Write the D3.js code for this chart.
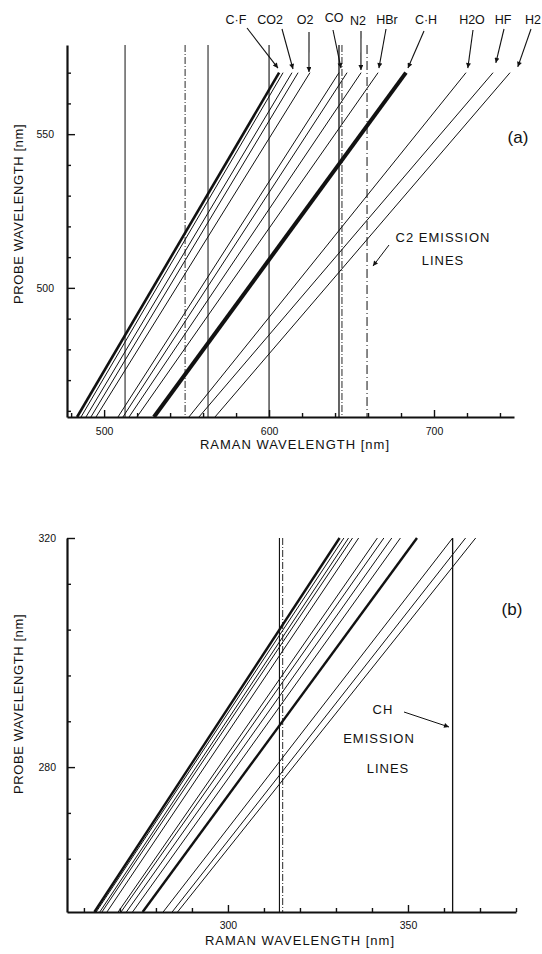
<!DOCTYPE html>
<html><head><meta charset="utf-8">
<script src="https://cdn.jsdelivr.net/npm/d3@7"></script>
<style>
body{margin:0;background:#fff}
svg{display:block}
text{font-family:"Liberation Sans",Arial,sans-serif;fill:#111}
</style></head><body>
<svg id="chart" width="542" height="954"></svg>
<script>
// ================= DATA =================
// Panel (a) : C2 region
const probeRangeA = [458, 570];
const ramanBottomA = [483.6, 486.0, 489.0, 492.0, 495.1, 508.4, 511.4, 515.1, 519.9, 530.2, 551.4, 557.5, 567.2];
const ramanTopA    = [606.1, 608.5, 613.9, 617.6, 624.8, 642.4, 647.3, 655.8, 666.1, 683.0, 719.4, 735.8, 746.1];
const emissionA    = [512.7, 549.1, 563.0, 600.0, 642.4, 644.2, 659.4];
const speciesA        = ["C·F", "CO2", "O2", "CO", "N2", "HBr", "C·H", "H2O", "HF", "H2"];
const speciesTipRamanA = [605.4, 614.5, 624.2, 643.6, 655.7, 666.6, 684.2, 720.5, 737.5, 750.8];
const speciesTipProbeA = [571.5, 571.2, 570.2, 571.5, 570.9, 571.5, 571.5, 571.5, 573.2, 571.9];
const xTicksA = [480, 500, 520, 540, 560, 580, 600, 620, 640, 660, 680, 700, 720, 740];
const xTickLabelsA = [500, 600, 700];
const yTicksA = [460, 470, 480, 490, 500, 510, 520, 530, 540, 550, 560, 570];
const yTickLabelsA = [500, 550];
const emissionTipA = [663.0, 507.1];

// Panel (b) : CH region
const probeRangeB = [254.7, 320];
const ramanBottomB = [262.9, 263.4, 264.4, 265.0, 266.4, 269.5, 270.3, 271.8, 273.5, 276.3, 282.0, 284.5, 286.0];
const ramanTopB    = [331.0, 332.2, 333.5, 334.6, 336.3, 341.5, 343.3, 345.5, 347.9, 352.5, 362.4, 366.0, 368.8];
const emissionB    = [314.3, 315.2, 362.4];
const xTicksB = [260, 270, 280, 290, 300, 310, 320, 330, 340, 350, 360, 370, 380];
const xTickLabelsB = [300, 350];
const yTicksB = [264, 272, 280, 288, 296, 304, 312, 320];
const yTickLabelsB = [280, 320];
const emissionTipB = [361.4, 287.0];

// ================= LAYOUT / STYLE =================
const panels = [
  { key: "a",
    xDomain: [477.5, 748.5], xRange: [67, 514],
    yDomain: [458, 579], yRange: [417, 45],
    probeRange: probeRangeA, bottom: ramanBottomA, top: ramanTopA,
    lineWidths: [2.6, 1, 1, 1, 1, 1, 1, 1, 1, 4, 1, 1, 1],
    emission: emissionA,
    emissionDash: [null, "7,2,1,2", null, null, null, "7,2,1,2", "9,3,1,3"],
    emissionWidth: [1, 0.9, 1, 1.1, 1.3, 0.9, 1],
    xTicks: xTicksA, xLabels: xTickLabelsA, yTicks: yTicksA, yLabels: yTickLabelsA,
    xPad: 11, yPad: 13, yTitleCenter: 214, xTitleY: 449, xTitleX: 295,
    tag: "(a)", tagPos: [518, 143],
    emissionText: ["C2 EMISSION", "LINES"], emissionTextPos: [[443, 242], [443, 265]],
    emissionArrowFrom: [389, 245], emissionTip: emissionTipA
  },
  { key: "b",
    xDomain: [255.3, 380], xRange: [67, 516],
    yDomain: [254.7, 320], yRange: [912, 538],
    probeRange: probeRangeB, bottom: ramanBottomB, top: ramanTopB,
    lineWidths: [2.4, 1, 1, 1, 1, 1, 1, 1, 1, 2.4, 1, 1, 1],
    emission: emissionB,
    emissionDash: [null, "7,2,1,2", null],
    emissionWidth: [1.1, 0.9, 1.3],
    xTicks: xTicksB, xLabels: xTickLabelsB, yTicks: yTicksB, yLabels: yTickLabelsB,
    xPad: 10, yPad: 11, yTitleCenter: 704, xTitleY: 945, xTitleX: 300,
    tag: "(b)", tagPos: [512, 615],
    emissionText: ["CH", "EMISSION", "LINES"], emissionTextPos: [[383, 714], [379, 743], [388, 773]],
    emissionArrowFrom: [404, 712], emissionTip: emissionTipB
  }
];

const labelLayoutA = {
  text: [[236, 24], [270, 24], [305, 24], [334, 22], [358, 25], [387, 24], [426, 24], [472, 24], [503, 24], [533, 24]],
  tail: [[247, 28], [282, 29], [309, 32], [333, 30], [361, 31], [386, 29], [424, 31], [473, 30], [504, 29], [531, 29]]
};

const ink = "#111";
const svg = d3.select("#chart");

const defs = svg.append("defs");
defs.append("marker").attr("id", "arrow")
  .attr("viewBox", "0 0 10 10").attr("refX", 10).attr("refY", 5)
  .attr("markerWidth", 7).attr("markerHeight", 5).attr("markerUnits", "userSpaceOnUse")
  .attr("orient", "auto")
  .append("path").attr("d", "M0,0 L10,5 L0,10 Z").attr("fill", ink);

panels.forEach(P => {
  const g = svg.append("g");
  const x = d3.scaleLinear().domain(P.xDomain).range(P.xRange);
  const y = d3.scaleLinear().domain(P.yDomain).range(P.yRange);

  // emission (vertical) lines
  g.selectAll("line.em").data(P.emission).join("line")
    .attr("class", "em")
    .attr("x1", d => x(d)).attr("x2", d => x(d))
    .attr("y1", y(P.yDomain[1])).attr("y2", y(P.yDomain[0]))
    .attr("stroke", ink)
    .attr("stroke-width", (d, i) => P.emissionWidth[i])
    .attr("stroke-dasharray", (d, i) => P.emissionDash[i]);

  // Raman lines
  const lineGen = d3.line().x(d => x(d[0])).y(d => y(d[1]));
  const rows = P.bottom.map((b, i) => [[b, P.probeRange[0]], [P.top[i], P.probeRange[1]]]);
  g.selectAll("path.raman").data(rows).join("path")
    .attr("class", "raman")
    .attr("d", lineGen)
    .attr("fill", "none")
    .attr("stroke", ink)
    .attr("stroke-width", (d, i) => P.lineWidths[i]);

  // x axis
  const xAxis = d3.axisBottom(x).tickValues(P.xTicks).tickSizeInner(-4).tickSizeOuter(0)
    .tickPadding(P.xPad).tickFormat(d => P.xLabels.includes(d) ? d : "");
  const gx = g.append("g").attr("transform", `translate(0,${P.yRange[0]})`).call(xAxis);
  gx.select(".domain").attr("stroke", ink).attr("stroke-width", 2.2);
  gx.selectAll(".tick line").attr("stroke", ink).attr("stroke-width", 1.4)
    .attr("y2", d => P.xLabels.includes(d) ? -7 : -4);
  gx.selectAll(".tick text").attr("font-size", 10.5).attr("fill", ink)
    .attr("font-family", "Liberation Sans, Arial, sans-serif");

  // y axis
  const yAxis = d3.axisLeft(y).tickValues(P.yTicks).tickSizeInner(-4).tickSizeOuter(0)
    .tickPadding(P.yPad).tickFormat(d => P.yLabels.includes(d) ? d : "");
  const gy = g.append("g").attr("transform", `translate(${P.xRange[0]},0)`).call(yAxis);
  gy.select(".domain").attr("stroke", ink).attr("stroke-width", 2.2);
  gy.selectAll(".tick line").attr("stroke", ink).attr("stroke-width", 1.4)
    .attr("x2", d => P.yLabels.includes(d) ? 8 : 4);
  gy.selectAll(".tick text").attr("font-size", 10.5).attr("fill", ink)
    .attr("font-family", "Liberation Sans, Arial, sans-serif");

  // axis titles
  g.append("text")
    .attr("transform", `translate(23,${P.yTitleCenter}) rotate(-90)`)
    .attr("text-anchor", "middle").attr("font-size", 13).attr("letter-spacing", 0.6)
    .text("PROBE WAVELENGTH [nm]");
  g.append("text")
    .attr("x", P.xTitleX).attr("y", P.xTitleY)
    .attr("text-anchor", "middle").attr("font-size", 13).attr("letter-spacing", 1)
    .text("RAMAN WAVELENGTH [nm]");

  // panel tag
  g.append("text").attr("x", P.tagPos[0]).attr("y", P.tagPos[1])
    .attr("text-anchor", "middle").attr("font-size", 17)
    .attr("font-family", "Liberation Serif, DejaVu Serif, serif")
    .text(P.tag);

  // emission annotation
  P.emissionText.forEach((t, i) => {
    g.append("text").attr("x", P.emissionTextPos[i][0]).attr("y", P.emissionTextPos[i][1])
      .attr("text-anchor", "middle").attr("font-size", 13).attr("letter-spacing", 1)
      .text(t);
  });
  g.append("line")
    .attr("x1", P.emissionArrowFrom[0]).attr("y1", P.emissionArrowFrom[1])
    .attr("x2", x(P.emissionTip[0])).attr("y2", y(P.emissionTip[1]))
    .attr("stroke", ink).attr("stroke-width", 1).attr("marker-end", "url(#arrow)");

  // species labels (panel a only)
  if (P.key === "a") {
    speciesA.forEach((s, i) => {
      g.append("text").attr("x", labelLayoutA.text[i][0]).attr("y", labelLayoutA.text[i][1])
        .attr("text-anchor", "middle").attr("font-size", 12.5)
        .text(s);
      g.append("line")
        .attr("x1", labelLayoutA.tail[i][0]).attr("y1", labelLayoutA.tail[i][1])
        .attr("x2", x(speciesTipRamanA[i])).attr("y2", y(speciesTipProbeA[i]))
        .attr("stroke", ink).attr("stroke-width", 1.1).attr("marker-end", "url(#arrow)");
    });
  }
});
</script>
</body></html>
